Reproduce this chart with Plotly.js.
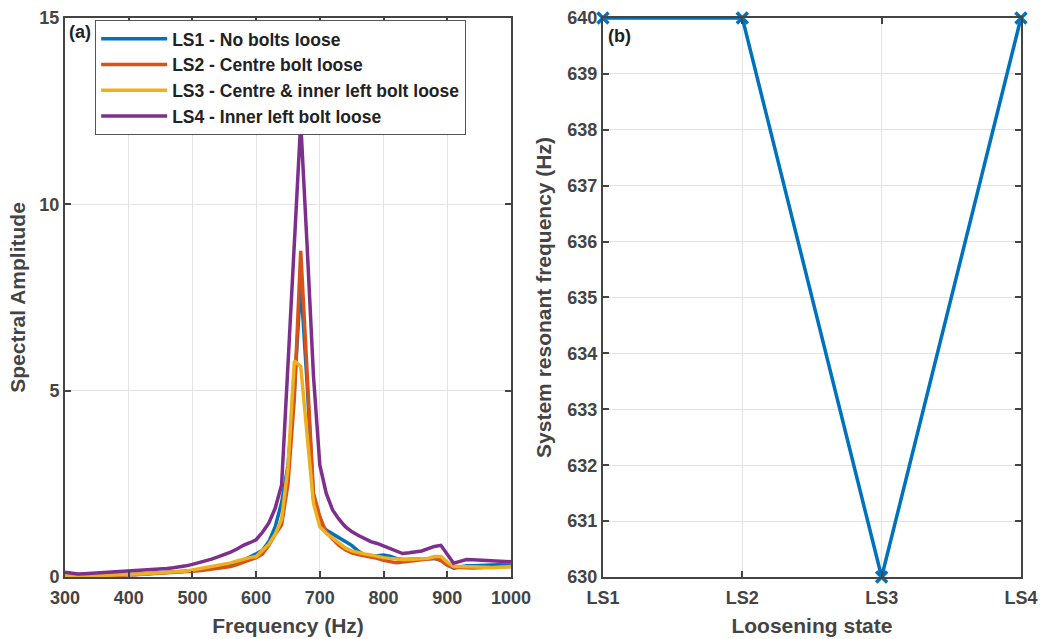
<!DOCTYPE html>
<html>
<head>
<meta charset="utf-8">
<script src="https://cdn.plot.ly/plotly-3.0.1.min.js"></script>
<style>html,body{margin:0;padding:0;background:#fff;} #chart{width:1040px;height:639px;}</style>
</head>
<body>
<div id="chart"></div>
<script>
// Frequency grid (Hz)
const freq = [];
for (let f = 300; f <= 1000; f += 10) freq.push(f);

// Spectral amplitudes (300..1000 Hz, 10 Hz step)
// rows: 300-590 | 600-690 | 700-1000
const ls1 = [0.05,0.03,0.01,0.02,0.03,0.04,0.05,0.05,0.06,0.06,0.07,0.07,0.08,0.08,0.09,0.10,0.11,0.12,0.13,0.15,0.17,0.20,0.23,0.25,0.27,0.29,0.33,0.38,0.45,0.53,
             0.62,0.72,0.95,1.35,2.0,3.0,5.0,7.9,5.2,2.1,
             1.45,1.26,1.15,1.05,0.95,0.85,0.70,0.59,0.55,0.57,0.59,0.56,0.50,0.47,0.47,0.48,0.48,0.49,0.50,0.45,0.33,0.24,0.27,0.30,0.30,0.30,0.31,0.32,0.33,0.33,0.32];
const ls2 = [0.04,0.02,0.00,0.01,0.02,0.03,0.04,0.04,0.05,0.05,0.06,0.06,0.07,0.07,0.08,0.09,0.10,0.11,0.12,0.13,0.15,0.17,0.19,0.21,0.22,0.24,0.28,0.33,0.40,0.46,
             0.52,0.62,0.85,1.15,1.4,2.5,4.8,8.75,5.55,2.25,
             1.62,1.20,1.02,0.85,0.73,0.65,0.60,0.57,0.55,0.50,0.45,0.41,0.38,0.40,0.42,0.44,0.45,0.47,0.50,0.45,0.32,0.26,0.25,0.24,0.24,0.25,0.26,0.27,0.28,0.28,0.28];
const ls3 = [0.04,0.02,0.01,0.02,0.03,0.04,0.05,0.05,0.06,0.06,0.07,0.08,0.08,0.09,0.10,0.11,0.12,0.13,0.14,0.16,0.19,0.22,0.25,0.28,0.31,0.34,0.38,0.43,0.48,0.52,
             0.55,0.70,0.88,1.15,1.55,2.94,5.8,5.65,3.8,1.98,
             1.35,1.17,1.05,0.90,0.78,0.70,0.65,0.62,0.59,0.55,0.52,0.50,0.48,0.47,0.47,0.48,0.49,0.50,0.55,0.55,0.40,0.28,0.28,0.28,0.28,0.27,0.26,0.25,0.26,0.27,0.28];
const ls4 = [0.13,0.10,0.08,0.09,0.10,0.10,0.11,0.12,0.13,0.14,0.15,0.16,0.17,0.18,0.20,0.21,0.23,0.25,0.27,0.30,0.34,0.38,0.43,0.48,0.54,0.60,0.67,0.75,0.85,0.92,
             1.0,1.2,1.45,1.85,2.47,5.7,8.96,12.2,8.9,5.4,
             3.0,2.25,1.80,1.55,1.35,1.22,1.12,1.03,0.95,0.90,0.83,0.76,0.68,0.63,0.65,0.68,0.70,0.76,0.82,0.85,0.60,0.37,0.42,0.47,0.46,0.45,0.44,0.43,0.42,0.41,0.41];

const seriesNames = ['LS1 - No bolts loose','LS2 - Centre bolt loose','LS3 - Centre & inner left bolt loose','LS4 - Inner left bolt loose'];
const seriesColors = ['#0072BD','#D95319','#EDB120','#7E2F8E'];

// Panel (b)
const states = ['LS1','LS2','LS3','LS4'];
const resonant = [640,640,630,640];

const freqTicks = [300,400,500,600,700,800,900,1000];
const ampTicks = [0,5,10,15];
const resTicks = [630,631,632,633,634,635,636,637,638,639,640];

const FONT = 'Liberation Sans, Arial, sans-serif';
const AX = '#444444';
const GRID = '#e3e3e3';

const traces = [ls1, ls2, ls3, ls4].map((ys, i) => ({
  x: freq, y: ys, type: 'scatter', mode: 'lines', name: seriesNames[i],
  line: {color: seriesColors[i], width: 3.5}, xaxis: 'x', yaxis: 'y'
}));
traces.push({
  x: states, y: resonant, type: 'scatter', mode: 'lines+markers', showlegend: false,
  line: {color: '#0072BD', width: 3.5},
  marker: {symbol: 'x-thin-open', size: 11, color: '#0072BD', line: {width: 3.5, color: '#0072BD'}},
  cliponaxis: false, xaxis: 'x2', yaxis: 'y2'
});

function axisBase() {
  return {
    showline: true, linecolor: AX, linewidth: 2, mirror: 'ticks',
    ticks: 'inside', ticklen: 6, tickwidth: 2, tickcolor: AX,
    showgrid: true, gridcolor: GRID, gridwidth: 1, zeroline: false,
    tickfont: {family: FONT, size: 18, color: AX, weight: 'bold'},
    automargin: false
  };
}
const titleFont = {family: FONT, size: 21, color: AX, weight: 'bold'};

const layout = {
  width: 1040, height: 639,
  margin: {l: 0, r: 0, t: 0, b: 0},
  paper_bgcolor: '#ffffff', plot_bgcolor: '#ffffff',
  showlegend: true,
  legend: {
    x: 0.0915, y: 0.969, xanchor: 'left', yanchor: 'top',
    bgcolor: '#ffffff', bordercolor: '#555555', borderwidth: 1,
    font: {family: FONT, size: 17.5, color: '#222222', weight: 'bold'},
    itemwidth: 66, tracegroupgap: 0
  },
  xaxis: Object.assign(axisBase(), {
    domain: [0.0625, 0.4913], range: [300, 1000], tickvals: freqTicks,
    ticklabelstandoff: 3,
    title: {text: 'Frequency (Hz)', font: titleFont, standoff: 12},
    anchor: 'y'
  }),
  yaxis: Object.assign(axisBase(), {
    domain: [0.097, 0.972], range: [0, 15], tickvals: ampTicks,
    title: {text: 'Spectral Amplitude', font: titleFont, standoff: 8},
    anchor: 'x'
  }),
  xaxis2: Object.assign(axisBase(), {
    domain: [0.5798, 0.9817], range: [0, 3], type: 'category',
    ticklabelstandoff: 3,
    title: {text: 'Loosening state', font: titleFont, standoff: 12},
    anchor: 'y2'
  }),
  yaxis2: Object.assign(axisBase(), {
    domain: [0.097, 0.972], range: [630, 640], tickvals: resTicks,
    title: {text: 'System resonant frequency (Hz)', font: titleFont, standoff: 10},
    anchor: 'x2'
  }),
  annotations: [
    {text: '(a)', xref: 'paper', yref: 'paper', x: 0.064, y: 0.969, xanchor: 'left', yanchor: 'top', showarrow: false,
     font: {family: FONT, size: 18, color: '#222222', weight: 'bold'}},
    {text: '(b)', xref: 'paper', yref: 'paper', x: 0.583, y: 0.962, xanchor: 'left', yanchor: 'top', showarrow: false,
     font: {family: FONT, size: 18, color: '#222222', weight: 'bold'}}
  ]
};

Plotly.newPlot('chart', traces, layout, {displayModeBar: false, staticPlot: true});
</script>
</body>
</html>
